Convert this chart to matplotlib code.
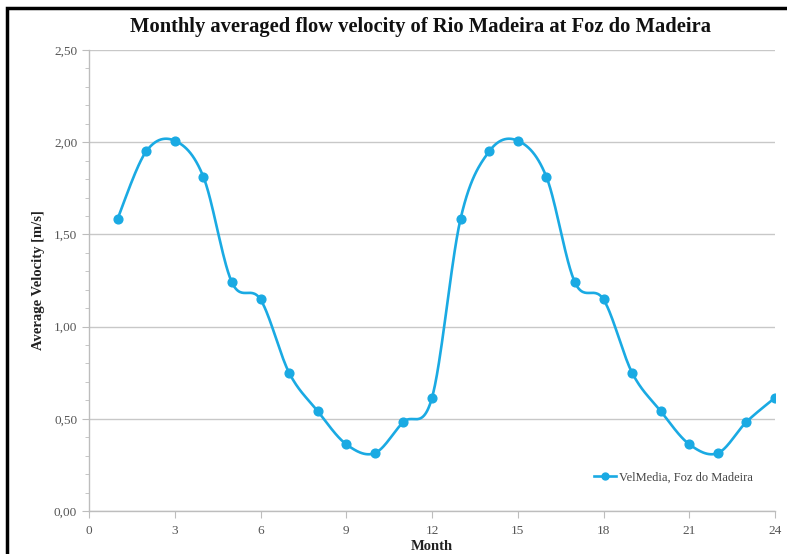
import numpy as np
import matplotlib
matplotlib.use("Agg")
import matplotlib.pyplot as plt
from matplotlib.ticker import FuncFormatter, MultipleLocator
from matplotlib.patches import Rectangle

months = [1, 2, 3, 4, 5, 6, 7, 8, 9, 10, 11, 12,
          13, 14, 15, 16, 17, 18, 19, 20, 21, 22, 23, 24]
velocity = [1.585, 1.950, 2.008, 1.813, 1.240, 1.147, 0.750, 0.542, 0.362, 0.314, 0.483, 0.614,
            1.585, 1.950, 2.008, 1.813, 1.240, 1.147, 0.750, 0.542, 0.362, 0.314, 0.483, 0.614]
series_label = "VelMedia, Foz do Madeira"
title = "Monthly averaged flow velocity of Rio Madeira at Foz do Madeira"
xlabel = "Month"
ylabel = "Average Velocity [m/s]"
xticks = [0, 3, 6, 9, 12, 15, 18, 21, 24]
yticks = [0.0, 0.5, 1.0, 1.5, 2.0, 2.5]

plt.rcParams['font.family'] = ['Liberation Serif', 'DejaVu Serif']

def catmull_rom(x, y, n=30):
    x = np.asarray(x, float); y = np.asarray(y, float)
    px = np.concatenate([[x[0]], x, [x[-1]]])
    py = np.concatenate([[y[0]], y, [y[-1]]])
    xs, ys = [], []
    t = np.linspace(0, 1, n)
    for i in range(1, len(px) - 2):
        p0, p1, p2, p3 = [np.array([px[j], py[j]]) for j in (i - 1, i, i + 1, i + 2)]
        c1 = p1 + (p2 - p0) / 6.0
        c2 = p2 - (p3 - p1) / 6.0
        b = ((1 - t) ** 3)[:, None] * p1 + (3 * (1 - t) ** 2 * t)[:, None] * c1 \
            + (3 * (1 - t) * t ** 2)[:, None] * c2 + (t ** 3)[:, None] * p2
        xs.append(b[:, 0]); ys.append(b[:, 1])
    return np.concatenate(xs), np.concatenate(ys)

fig = plt.figure(figsize=(7.87, 5.54), dpi=100)
ax = fig.add_axes([89/787, 1 - 511/554, (775 - 89)/787, (511 - 50)/554])

color = '#1AAAE3'
sx, sy = catmull_rom(months, velocity)
ax.plot(sx, sy, color=color, lw=1.9, zorder=3)
ax.plot(months, velocity, 'o', color=color, ms=6.3, zorder=4)
ax.plot([], [], '-o', color=color, lw=1.9, ms=5.0, label=series_label)

ax.set_xlim(0, 24)
ax.set_ylim(0, 2.5)
ax.set_xticks(xticks)
ax.set_yticks(yticks)
ax.yaxis.set_minor_locator(MultipleLocator(0.1))
ax.yaxis.set_major_formatter(FuncFormatter(lambda v, p: f"{v:.2f}".replace('.', ',')))
ax.grid(axis='y', which='major', color='#c8c8c8', lw=1.0, zorder=0)

for s in ['top', 'right']:
    ax.spines[s].set_visible(False)
for s in ['left', 'bottom']:
    ax.spines[s].set_color('#bdbdbd')
    ax.spines[s].set_linewidth(1.0)
ax.tick_params(axis='both', which='both', colors='#bdbdbd', labelcolor='#555555', labelsize=9.5)
ax.tick_params(axis='y', which='major', length=5)
ax.tick_params(axis='y', which='minor', length=3)
ax.tick_params(axis='x', which='major', length=5, pad=5)

ax.set_xlabel(xlabel, fontsize=10.5, fontweight='bold', color='#222222', labelpad=2)
ax.set_ylabel(ylabel, fontsize=10.5, fontweight='bold', color='#222222', labelpad=6)

fig.text(421/787, 1 - 27/554, title, ha='center', va='center', fontsize=14.8,
         fontweight='bold', color='#111111')

leg = ax.legend(loc='center right', bbox_to_anchor=(0.975, 0.072), frameon=False,
                fontsize=9.0, handlelength=1.8, handletextpad=0.2, borderaxespad=0)
for t in leg.get_texts():
    t.set_color('#444444')

fig.patches.append(Rectangle((7/787, -0.05), 2.0, 1 - 8/554 + 0.05, transform=fig.transFigure,
                             fill=False, edgecolor='black', lw=2.5))

fig.savefig('out.png', dpi=100)
